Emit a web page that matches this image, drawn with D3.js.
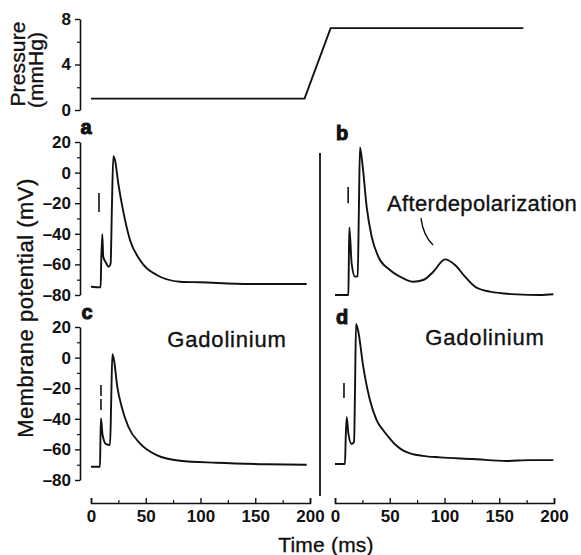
<!DOCTYPE html>
<html>
<head>
<meta charset="utf-8">
<script src="https://cdn.jsdelivr.net/npm/d3@7"></script>
<style>
  body { margin: 0; background: #fff; }
  svg { display: block; font-family: "Liberation Sans", Arial, sans-serif; }
</style>
</head>
<body>
<script>
const WIDTH = 581, HEIGHT = 555;

// ticks
const TIME_TICKS = [0, 50, 100, 150, 200];
const MV_TICKS = [20, 0, -20, -40, -60, -80];
const P_TICKS = [0, 4, 8];

// pressure protocol: [panel, time (ms), pressure (mmHg)]
const pressure = [["a", 0, 1], ["a", 195, 1], ["b", -4, 7.2], ["b", 172, 7.2]];

// membrane potential traces: [time (ms), mV]
const traceA = [
  [0, -74.6], [8.8, -75], [9.3, -58.9], [10.3, -40.3], [11.2, -55], [13.7, -58.9],
  [16.1, -61.5], [17.9, -59.6], [19.1, -22.3], [20.4, 10.8], [21.9, 8.2], [24.9, -7],
  [29.5, -25.5], [35.6, -44], [44.7, -57.1], [60, -66.9], [81.3, -71.3], [99.5, -71.7],
  [145, -72.8], [197, -72.8]
];
const traceB = [
  [0, -80], [12.2, -80], [12.6, -60], [13.1, -35.8], [15.2, -59.3], [18.3, -68],
  [20.7, -67.6], [21.8, -25], [22.8, 16.5], [25.3, 3.9], [28.9, -22.3], [33.5, -41.9],
  [39.6, -55], [50.2, -63.7], [62.4, -69.1], [71.5, -71.3], [80.6, -70.2], [89.8, -64.8],
  [100.5, -56.7], [109.6, -60.4], [118.7, -68], [127.9, -74.6], [141.6, -77.8],
  [165.9, -79.6], [187.2, -80], [199.4, -79.5]
];
const traceC = [
  [0, -71.3], [8.2, -71.3], [8.6, -55], [9.1, -39.7], [10.6, -50.6], [13.7, -56.5],
  [17.4, -57.1], [18.4, -30], [19.5, 2.2], [21, -1.6], [24, -19], [28, -32.1],
  [34.1, -45.2], [44.7, -56], [60, -63.7], [81.3, -67.4], [114.7, -68.7], [160.4, -69.7],
  [197, -70]
];
const traceD = [
  [0, -69.5], [9.1, -69.5], [9.8, -52], [10.7, -39], [12.2, -49.5], [15.2, -56.5],
  [17.4, -55], [18.3, -20], [19.2, 22], [21.3, 16.9], [25.8, -5.9], [31.9, -27.7],
  [38, -40.8], [44, -47.5], [50.2, -53], [56, -57.5], [62.4, -60.8], [70, -62.9],
  [80, -64.2], [95.9, -65.2], [126.3, -66.3], [156.8, -67.6], [178, -67], [199.4, -67]
];
const traces = { a: traceA, b: traceB, c: traceC, d: traceD };

// stimulus marks: [panel, time (ms), top mV, bottom mV]
const stimMarks = [["a", 7.3, -13.3, -25.8], ["b", 12, -9.4, -20], ["c", 9.1, -17.9, -34.2], ["d", 8.2, -16.6, -26.4]];

const PANEL_LETTERS = ["a", "b", "c", "d"];

// scales
const xLeft = d3.scaleLinear().domain([0, 200]).range([91, 310]);
const xRight = d3.scaleLinear().domain([0, 200]).range([335, 554]);
const yTop = d3.scaleLinear().domain([-80, 20]).range([295, 142]);
const yBottom = d3.scaleLinear().domain([-80, 20]).range([480, 327]);
const yPressure = d3.scaleLinear().domain([0, 8]).range([110, 19]);

const panels = {
  a: { x: xLeft, y: yTop, letter: [86, 134] },
  b: { x: xRight, y: yTop, letter: [342, 140] },
  c: { x: xLeft, y: yBottom, letter: [87, 319] },
  d: { x: xRight, y: yBottom, letter: [342, 324] },
};

const minus = d => (d < 0 ? "\u2013" + -d : "" + d);

const svg = d3.select("body").append("svg")
  .attr("width", WIDTH)
  .attr("height", HEIGHT)
  .attr("viewBox", [0, 0, WIDTH, HEIGHT]);

svg.append("rect").attr("width", WIDTH).attr("height", HEIGHT).attr("fill", "#fff");

function styleAxis(g, size) {
  g.select(".domain").attr("stroke", "#111").attr("stroke-width", 1.6);
  g.selectAll(".tick line").attr("stroke", "#111").attr("stroke-width", 1.4);
  g.selectAll(".tick text")
    .attr("fill", "#111")
    .attr("font-size", size)
    .attr("font-weight", "bold");
}

// y axes (ticks out to the left)
const leftAxis = (scale, ticks, fmt) => g => {
  g.attr("transform", "translate(80,0)")
    .call(d3.axisLeft(scale).tickValues(ticks).tickFormat(fmt).tickSizeInner(5).tickSizeOuter(0).tickPadding(4));
  styleAxis(g, 17);
};
const minorLeft = (scale, ticks) => g =>
  g.attr("transform", "translate(80,0)")
    .call(d3.axisLeft(scale).tickValues(ticks).tickFormat("").tickSize(3))
    .call(g => g.select(".domain").remove())
    .selectAll("line").attr("stroke", "#111").attr("stroke-width", 1.2);

svg.append("g").call(leftAxis(yPressure, P_TICKS, d => d));
svg.append("g").call(minorLeft(yPressure, [2, 6]));
svg.append("g").call(leftAxis(yTop, MV_TICKS, minus));
svg.append("g").call(minorLeft(yTop, d3.range(-70, 20, 20)));
svg.append("g").call(leftAxis(yBottom, MV_TICKS, minus));
svg.append("g").call(minorLeft(yBottom, d3.range(-70, 20, 20)));

// time axes, ticks pointing up
const timeAxis = scale => g => {
  g.attr("transform", "translate(0,503)")
    .call(d3.axisBottom(scale).tickValues(TIME_TICKS).tickSizeInner(-5).tickSizeOuter(-5).tickPadding(7));
  styleAxis(g, 17);
  g.selectAll(".tick text").attr("dy", "0.71em");
};
const minorTime = scale => g =>
  g.attr("transform", "translate(0,503)")
    .call(d3.axisBottom(scale).tickValues(d3.range(25, 200, 50)).tickFormat("").tickSize(-3))
    .call(g => g.select(".domain").remove())
    .selectAll("line").attr("stroke", "#111").attr("stroke-width", 1.2);

svg.append("g").call(timeAxis(xLeft));
svg.append("g").call(minorTime(xLeft));
svg.append("g").call(timeAxis(xRight));
svg.append("g").call(minorTime(xRight));

// separator between left and right panels
svg.append("line")
  .attr("x1", 320).attr("x2", 320)
  .attr("y1", 153).attr("y2", 496)
  .attr("stroke", "#111").attr("stroke-width", 1.8);

// pressure trace
svg.append("path")
  .datum(pressure)
  .attr("fill", "none")
  .attr("stroke", "#111")
  .attr("stroke-width", 1.9)
  .attr("d", d3.line().x(d => panels[d[0]].x(d[1])).y(d => yPressure(d[2])));

// membrane potential traces
const line = p => d3.line()
  .x(d => panels[p].x(d[0]))
  .y(d => panels[p].y(d[1]))
  .curve(d3.curveMonotoneX);

svg.append("g")
  .attr("fill", "none")
  .attr("stroke", "#111")
  .attr("stroke-width", 1.9)
  .attr("stroke-linejoin", "round")
  .selectAll("path")
  .data(PANEL_LETTERS)
  .join("path")
  .attr("d", p => line(p)(traces[p]));

// stimulus marks
svg.append("g")
  .attr("stroke", "#111")
  .attr("stroke-width", 1.6)
  .selectAll("line")
  .data(stimMarks)
  .join("line")
  .attr("x1", d => panels[d[0]].x(d[1]))
  .attr("x2", d => panels[d[0]].x(d[1]))
  .attr("y1", d => panels[d[0]].y(d[2]))
  .attr("y2", d => panels[d[0]].y(d[3]))
  .attr("stroke-dasharray", d => (d[0] === "c" ? "11,3" : null));

// afterdepolarization pointer
const pb = panels.b;
svg.append("path")
  .attr("fill", "none")
  .attr("stroke", "#111")
  .attr("stroke-width", 1.4)
  .attr("d", `M${pb.x(78.5)},${pb.y(-29.7)} Q${pb.x(80.5)},${pb.y(-41)} ${pb.x(89.5)},${pb.y(-47.3)}`);

// panel letters
svg.append("g")
  .attr("font-size", 20)
  .attr("font-weight", 900)
  .attr("fill", "#111")
  .attr("text-anchor", "middle")
  .selectAll("text")
  .data(PANEL_LETTERS)
  .join("text")
  .attr("x", p => panels[p].letter[0])
  .attr("y", p => panels[p].letter[1])
  .attr("stroke", "#111")
  .attr("stroke-width", 1)
  .text(p => p);

// annotations and titles
const labels = [
  { text: "Afterdepolarization", x: 482, y: 211, size: 22, ls: 0.35 },
  { text: "Gadolinium", x: 227, y: 347, size: 22, ls: 0.8 },
  { text: "Gadolinium", x: 485, y: 345, size: 22, ls: 0.8 },
  { text: "Time (ms)", x: 326, y: 552, size: 21, ls: 0.2 },
  { text: "Membrane potential (mV)", x: 33, y: 308, size: 22, ls: 0.5, rotate: true },
  { text: "Pressure", x: 25, y: 64, size: 21, ls: 0.15, rotate: true },
  { text: "(mmHg)", x: 43, y: 70, size: 21, ls: 0, rotate: true },
];

svg.append("g")
  .attr("fill", "#111")
  .attr("stroke", "#111")
  .attr("stroke-width", 0.35)
  .attr("text-anchor", "middle")
  .selectAll("text")
  .data(labels)
  .join("text")
  .attr("transform", d => `translate(${d.x},${d.y})` + (d.rotate ? " rotate(-90)" : ""))
  .attr("font-size", d => d.size)
  .attr("letter-spacing", d => d.ls)
  .text(d => d.text);
</script>
</body>
</html>
